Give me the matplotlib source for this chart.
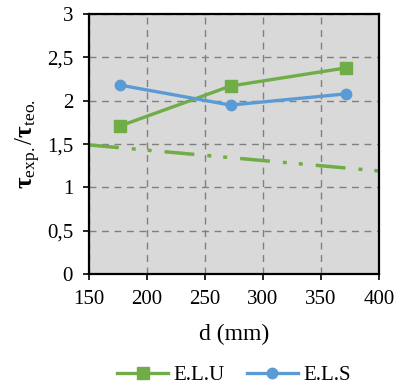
import matplotlib
matplotlib.use("Agg")
import matplotlib.pyplot as plt

plt.rcParams['font.family'] = ['Liberation Serif', 'DejaVu Serif']
plt.rcParams['mathtext.fontset'] = 'custom'
plt.rcParams['mathtext.rm'] = 'Liberation Serif'
plt.rcParams['mathtext.it'] = 'Liberation Serif'
plt.rcParams['mathtext.bf'] = 'Liberation Serif:bold'

d_elu = [177, 272, 372]
elu = [1.71, 2.17, 2.38]
d_els = [177, 272, 372]
els = [2.18, 1.95, 2.08]
trend_x = [150, 400]
trend_y = [1.49, 1.19]

green = '#70ad47'
blue = '#5b9bd5'

fig = plt.figure(figsize=(4.01, 3.91), dpi=100)
ax = fig.add_axes([0.222, 0.299, 0.723, 0.665])
ax.set_facecolor('#d9d9d9')

ax.plot(d_elu, elu, color=green, lw=2.4, marker='s', ms=8, label='E.L.U', zorder=3)
ax.plot(d_els, els, color=blue, lw=2.4, marker='o', ms=7.5, label='E.L.S', zorder=3)
ax.plot(trend_x, trend_y, color=green, lw=2.5,
        linestyle=(0, (8.6, 3.75, 1.15, 3.45, 1.15, 3.75)),
        dash_capstyle='butt', zorder=2)

ax.set_xlim(150, 400)
ax.set_ylim(0, 3)
ax.set_xticks([150, 200, 250, 300, 350, 400])
ax.set_yticks([0, 0.5, 1, 1.5, 2, 2.5, 3])
ax.set_yticklabels(['0', '0,5', '1', '1,5', '2', '2,5', '3'])
ax.grid(True, color='#808080', linestyle=(0, (5, 4)), lw=1.0)
ax.set_axisbelow(True)
for s in ax.spines.values():
    s.set_linewidth(1.6)
    s.set_color('black')
ax.tick_params(axis='both', labelsize=15, length=4.5, width=1.2, direction='out')
ax.tick_params(axis='x', pad=7)
ax.tick_params(axis='y', pad=7)

ax.set_xlabel('d (mm)', fontsize=17, labelpad=11)
ax.set_ylabel(r'$\mathbf{\tau}_{\mathrm{exp.}}/\mathbf{\tau}_{\mathrm{teo.}}$', fontsize=18, labelpad=3)

ax.legend(loc='upper center', bbox_to_anchor=(0.5, -0.28), ncol=2, frameon=False,
          fontsize=15, handlelength=2.45, columnspacing=1.05, handletextpad=0.25)

fig.savefig('out.png', dpi=100)
